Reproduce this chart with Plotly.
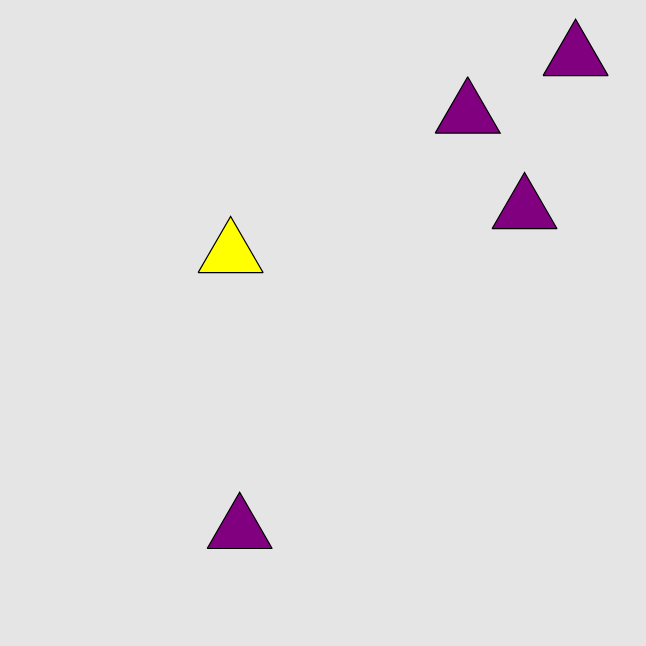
import plotly.graph_objects as go

# Data (centroids of the markers, in data units)
labels = ["A", "B", "C", "D", "E"]
x_vals = [3.57, 8.91, 7.24, 8.12, 3.71]
y_vals = [6.07, 9.12, 8.23, 6.75, 1.80]
groups = ["yellow", "purple", "purple", "purple", "purple"]

W = H = 646
X_RANGE = (0.0, 10.0)
Y_RANGE = (0.0, 10.0)
SIDE_PX = 65.0
HEIGHT_PX = SIDE_PX * 3 ** 0.5 / 2

px_x = (X_RANGE[1] - X_RANGE[0]) / W
px_y = (Y_RANGE[1] - Y_RANGE[0]) / H


def triangle(cx, cy):
    top = (cx, cy + 2 * HEIGHT_PX / 3 * px_y)
    bl = (cx - SIDE_PX / 2 * px_x, cy - HEIGHT_PX / 3 * px_y)
    br = (cx + SIDE_PX / 2 * px_x, cy - HEIGHT_PX / 3 * px_y)
    return [bl[0], br[0], top[0], bl[0]], [bl[1], br[1], top[1], bl[1]]


colors = {"yellow": "#ffff00", "purple": "#800080"}

fig = go.Figure()
for g in ["purple", "yellow"]:
    xs, ys = [], []
    for x, y, gg in zip(x_vals, y_vals, groups):
        if gg != g:
            continue
        tx, ty = triangle(x, y)
        xs += tx + [None]
        ys += ty + [None]
    fig.add_trace(go.Scatter(
        x=xs, y=ys, mode="lines", fill="toself",
        fillcolor=colors[g], line=dict(color="black", width=1.2),
        hoverinfo="skip", showlegend=False,
    ))

fig.update_layout(
    width=W, height=H,
    margin=dict(l=0, r=0, t=0, b=0),
    paper_bgcolor="#e5e5e5", plot_bgcolor="#e5e5e5",
    xaxis=dict(range=list(X_RANGE), visible=False, fixedrange=True),
    yaxis=dict(range=list(Y_RANGE), visible=False, fixedrange=True),
    showlegend=False,
)

fig.write_html(
    "out.html",
    config={"displayModeBar": False},
    post_script="document.body.style.margin='0';document.body.style.overflow='hidden';",
)
